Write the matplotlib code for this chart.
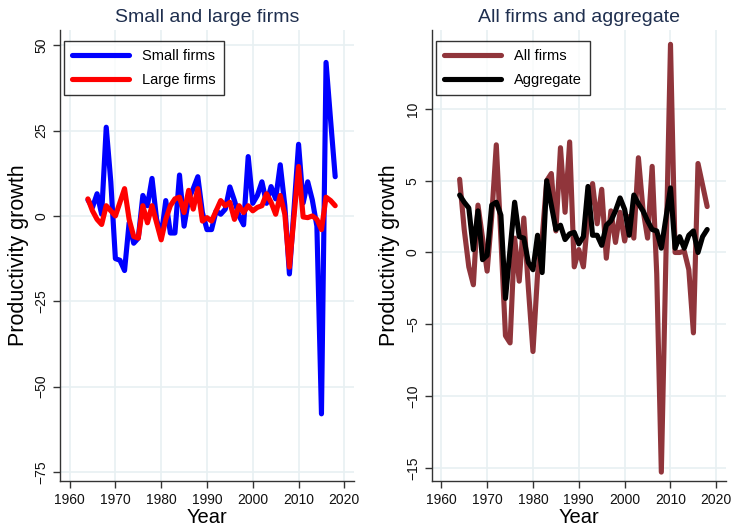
import numpy as np
import matplotlib
matplotlib.use("Agg")
import matplotlib.pyplot as plt

plt.rcParams['font.family'] = ['Liberation Sans', 'DejaVu Sans']

years = list(range(1964, 2019))

small_firms = [4.7, 2.5, 6.5, 0.5, 26, 10, -12.5, -13, -16, -2,
               -8, -6.5, 6, 3, 11, -1, -6, 4.5, -5, -5,
               12, -3, 5, 8, 11.5, 1, -4, -4, 1.5, 0.5,
               2, 8.5, 4.5, 0, -2.6, 17.4, 3.7, 6, 10, 3.7,
               8.6, 5, 15, 3, -17, None, 21, 3.8, 10, 4.7,
               -3, -58, 45, 28, 11.5]
large_firms = [5, 1.5, -1, -2.5, 3, 1.5, 0, 4, 8, -1,
               -6, -6.5, 3, -2, 3, -2, -7, -1, 3, 5,
               5.5, 1, 7.5, 2, 8, -1.5, -0.5, -1.5, 1.5, 4.5,
               3, 4, -1, 3, 1, 3, 1.5, 2.5, 3, 6.5,
               4, 0.5, 6, 0.5, -15, None, 14.5, -0.3, -0.5, 0,
               -1, -4, 5.5, 4.5, 3]
all_firms = [5.1, 1.6, -1.0, -2.25, 3.3, 1, -1.3, 2.5, 7.5, 1,
             -5.8, -6.3, 1, -2, 2.4, -2.5, -6.9, -1.5, 1, 5,
             5.5, 1.5, 7.3, 2.8, 7.7, -1.0, 0.2, -1.0, 2.5, 4.8,
             2, 4.4, -0.4, 2.9, 0.7, 2.8, 0.8, 2.5, 1, 6.6,
             3, 1, 6.0, -1.5, -15.3, None, 14.5, 0, 0, 0.1,
             -1.2, -5.6, 6.2, 4.7, 3.2]
aggregate = [4.0, 3.5, 3.1, 0.2, 2.9, -0.5, -0.2, 3.3, 3.5, 2.6,
             -3.2, 0.2, 3.5, 1.1, 1.0, -0.7, -1.2, 1.2, -1.4, 5.0,
             3.3, 1.6, 1.9, 0.9, 1.3, 1.4, 0.6, 1.1, 4.6, 1.2,
             1.2, 0.5, 1.9, 2.2, 2.9, 3.8, 3.0, 1.2, 4.0, 3.4,
             2.9, 2.2, 1.6, 1.5, 0.3, None, 4.5, 0.3, 1.1, 0.3,
             1.2, 1.5, 0, 1.1, 1.6]

x_ticks = [1960, 1970, 1980, 1990, 2000, 2010, 2020]
left_yticks = [-75, -50, -25, 0, 25, 50]
right_yticks = [-15, -10, -5, 0, 5, 10]

titles = ["Small and large firms", "All firms and aggregate"]


def series(vals):
    x = [y for y, v in zip(years, vals) if v is not None]
    v = [v for v in vals if v is not None]
    return x, v


fig = plt.figure(figsize=(7.35, 5.29), dpi=100)
ax1 = fig.add_axes([0.0816, 0.0913, 0.400, 0.852])
ax2 = fig.add_axes([0.5873, 0.0913, 0.4004, 0.852])

grid_c = '#e8f0f2'
title_c = '#1f2f4f'

panels = [
    (ax1, [(small_firms, '#0000ff', 'Small firms'), (large_firms, '#ff0000', 'Large firms')],
     left_yticks, (-77.6, 54.5)),
    (ax2, [(all_firms, '#90353b', 'All firms'), (aggregate, '#000000', 'Aggregate')],
     right_yticks, (-15.9, 15.5)),
]

for i, (ax, lines, yt, ylim) in enumerate(panels):
    for vals, c, lab in lines:
        x, v = series(vals)
        ax.plot(x, v, color=c, lw=3.7, label=lab, solid_capstyle='round',
                solid_joinstyle='round')
    ax.set_xlim(1957.9, 2022.1)
    ax.set_ylim(*ylim)
    ax.set_xticks(x_ticks)
    ax.set_yticks(yt)
    ax.grid(True, color=grid_c, lw=1.2)
    ax.set_axisbelow(True)
    for s in ['top', 'right']:
        ax.spines[s].set_visible(False)
    for s in ['left', 'bottom']:
        ax.spines[s].set_color('#333333')
        ax.spines[s].set_linewidth(1.0)
    ax.tick_params(axis='both', direction='out', length=5, width=1.0,
                   color='#333333', labelsize=10, labelcolor='#111111')
    for lbl in ax.get_yticklabels():
        lbl.set_rotation(90)
        lbl.set_va('center')
    ax.set_xlabel('Year', fontsize=14.5, labelpad=1)
    ax.set_ylabel('Productivity growth', fontsize=15.5, labelpad=4)
    ax.set_title(titles[i], fontsize=14, color=title_c, pad=6)
    leg = ax.legend(loc='upper left', fontsize=10.5, frameon=True, fancybox=False,
                    edgecolor='#000000', handlelength=3.9, borderpad=0.55,
                    labelspacing=0.65, handletextpad=0.9, borderaxespad=0.3,
                    bbox_to_anchor=(0.0, 0.985))
    leg.get_frame().set_linewidth(1.0)

fig.savefig('out.png', dpi=100)
